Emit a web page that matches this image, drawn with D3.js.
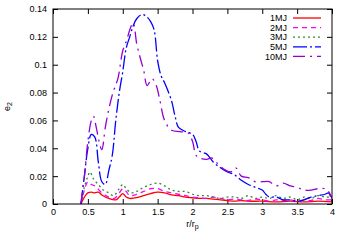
<!DOCTYPE html>
<html>
<head>
<meta charset="utf-8">
<script src="https://cdn.jsdelivr.net/npm/d3@7"></script>
<style>
body { margin: 0; background: #fff; }
text { font-family: "Liberation Sans", Arial, sans-serif; }
</style>
</head>
<body>
<div id="chart"></div>
<script>
// data: [r/rp, e2]
var red1 = [[0.4,0],[0.45,0.005],[0.5,0.008],[0.55,0.0085],[0.6,0.008],[0.65,0.0085],[0.7,0.0065],[0.8,0.004],[0.9,0.003],[0.95,0.005],[1.0,0.0075],[1.05,0.005],[1.1,0.004],[1.2,0.0045],[1.3,0.006],[1.4,0.0075],[1.5,0.0085],[1.6,0.008],[1.7,0.0065],[1.8,0.006],[1.9,0.005],[2.0,0.0045],[2.1,0.004],[2.2,0.004],[2.3,0.0035],[2.4,0.003],[2.5,0.0025],[2.6,0.002],[2.7,0.0025],[2.8,0.002],[3.0,0.002],[3.2,0.0015],[3.4,0.002],[3.6,0.0015],[3.8,0.002],[4.0,0.0015]];
var mag2 = [[0.4,0],[0.45,0.01],[0.5,0.016],[0.55,0.014],[0.6,0.013],[0.7,0.008],[0.8,0.005],[0.88,0.004],[0.95,0.008],[1.0,0.011],[1.05,0.009],[1.1,0.006],[1.2,0.007],[1.3,0.009],[1.4,0.011],[1.5,0.011],[1.6,0.009],[1.7,0.008],[1.8,0.007],[1.9,0.006],[2.0,0.005],[2.1,0.0045],[2.2,0.004],[2.3,0.005],[2.4,0.004],[2.5,0.003],[2.6,0.0035],[2.7,0.003],[2.8,0.0025],[2.9,0.0035],[3.0,0.003],[3.1,0.002],[3.2,0.003],[3.3,0.0025],[3.4,0.003],[3.5,0.002],[3.6,0.003],[3.7,0.0025],[3.8,0.004],[3.9,0.003],[4.0,0.003]];
var green3 = [[0.4,0],[0.45,0.012],[0.5,0.02],[0.53,0.023],[0.58,0.018],[0.65,0.014],[0.72,0.01],[0.8,0.008],[0.87,0.006],[0.95,0.011],[1.0,0.014],[1.05,0.011],[1.12,0.008],[1.2,0.009],[1.3,0.012],[1.4,0.014],[1.5,0.015],[1.6,0.013],[1.7,0.01],[1.8,0.009],[1.9,0.009],[2.0,0.007],[2.1,0.006],[2.2,0.006],[2.3,0.005],[2.4,0.004],[2.5,0.005],[2.6,0.005],[2.7,0.004],[2.8,0.006],[2.9,0.004],[3.0,0.005],[3.1,0.004],[3.2,0.006],[3.3,0.004],[3.4,0.005],[3.5,0.003],[3.6,0.005],[3.7,0.004],[3.8,0.006],[3.9,0.005],[4.0,0.005]];
var blue5 = [[0.4,0],[0.45,0.02],[0.5,0.04],[0.55,0.05],[0.6,0.048],[0.65,0.03],[0.7,0.016],[0.75,0.014],[0.8,0.024],[0.85,0.035],[0.9,0.06],[0.95,0.08],[1.0,0.095],[1.05,0.112],[1.1,0.12],[1.15,0.128],[1.2,0.133],[1.27,0.136],[1.33,0.135],[1.4,0.131],[1.45,0.125],[1.5,0.103],[1.55,0.092],[1.6,0.087],[1.7,0.074],[1.75,0.063],[1.8,0.055],[1.9,0.052],[2.0,0.05],[2.05,0.045],[2.1,0.038],[2.2,0.036],[2.3,0.03],[2.4,0.026],[2.5,0.023],[2.6,0.021],[2.7,0.017],[2.8,0.014],[2.9,0.012],[3.0,0.01],[3.05,0.007],[3.1,0.005],[3.2,0.005],[3.3,0.003],[3.4,0.003],[3.5,0.002],[3.6,0.003],[3.7,0.005],[3.8,0.006],[3.9,0.007],[3.95,0.008],[4.0,0.002]];
var purple10 = [[0.4,0],[0.45,0.02],[0.5,0.045],[0.55,0.06],[0.58,0.063],[0.62,0.055],[0.66,0.045],[0.7,0.039],[0.75,0.055],[0.8,0.068],[0.86,0.08],[0.93,0.09],[1.0,0.11],[1.06,0.118],[1.1,0.125],[1.15,0.13],[1.2,0.115],[1.25,0.105],[1.3,0.096],[1.35,0.085],[1.42,0.09],[1.48,0.085],[1.53,0.075],[1.6,0.06],[1.7,0.053],[1.82,0.052],[1.94,0.051],[2.0,0.045],[2.05,0.035],[2.1,0.033],[2.2,0.032],[2.28,0.033],[2.36,0.029],[2.45,0.025],[2.55,0.023],[2.62,0.026],[2.7,0.02],[2.8,0.019],[2.9,0.016],[3.0,0.016],[3.1,0.016],[3.2,0.013],[3.3,0.015],[3.4,0.013],[3.5,0.012],[3.6,0.01],[3.7,0.01],[3.8,0.011],[3.9,0.011],[3.95,0.009],[4.0,0.004]];

var seriesNames = ["1MJ", "2MJ", "3MJ", "5MJ", "10MJ"];
var xTicks = [0, 0.5, 1, 1.5, 2, 2.5, 3, 3.5, 4];
var xTickLabels = ["0", "0.5", "1", "1.5", "2", "2.5", "3", "3.5", "4"];
var yTicks = [0, 0.02, 0.04, 0.06, 0.08, 0.1, 0.12, 0.14];
var yTickLabels = ["0", "0.02", "0.04", "0.06", "0.08", "0.1", "0.12", "0.14"];

var series = [
    { name: seriesNames[0], values: red1, color: "#ff0000", dash: null },
    { name: seriesNames[1], values: mag2, color: "#ff00ff", dash: "5,4" },
    { name: seriesNames[2], values: green3, color: "#2e8b3a", dash: "2,3" },
    { name: seriesNames[3], values: blue5, color: "#0000ff", dash: "14,3,2,3" },
    { name: seriesNames[4], values: purple10, color: "#9400d3", dash: "12,5,2,5" }
];

var margin = { top: 9, right: 18, bottom: 41, left: 53 },
    width = 350 - margin.left - margin.right,
    height = 245 - margin.top - margin.bottom;

var svg = d3.select("#chart")
    .append("svg")
    .attr("width", 350)
    .attr("height", 245)
    .append("g")
    .attr("transform", "translate(" + margin.left + "," + margin.top + ")");

var x = d3.scaleLinear().domain([0, 4]).range([0, width]);
var y = d3.scaleLinear().domain([0, 0.14]).range([height, 0]);

svg.append("clipPath").attr("id", "clip")
    .append("rect").attr("width", width).attr("height", height);

// axes, gnuplot style: inward ticks mirrored on all sides
function styleAxis(g) {
    g.select(".domain").remove();
    g.selectAll("line").attr("stroke", "#000");
    g.selectAll("text").style("font-size", "9px").attr("fill", "#000");
}

svg.append("g")
    .attr("transform", "translate(0," + height + ")")
    .call(d3.axisBottom(x).tickValues(xTicks).tickFormat(function (d, i) { return xTickLabels[i]; })
        .tickSizeInner(-5).tickSizeOuter(0).tickPadding(5))
    .call(styleAxis);

svg.append("g")
    .call(d3.axisTop(x).tickValues(xTicks).tickFormat("")
        .tickSizeInner(-5).tickSizeOuter(0))
    .call(styleAxis);

svg.append("g")
    .call(d3.axisLeft(y).tickValues(yTicks).tickFormat(function (d, i) { return yTickLabels[i]; })
        .tickSizeInner(-5).tickSizeOuter(0).tickPadding(6))
    .call(styleAxis);

svg.append("g")
    .attr("transform", "translate(" + width + ",0)")
    .call(d3.axisRight(y).tickValues(yTicks).tickFormat("")
        .tickSizeInner(-5).tickSizeOuter(0))
    .call(styleAxis);

var line = d3.line()
    .x(function (d) { return x(d[0]); })
    .y(function (d) { return y(d[1]); })
    .curve(d3.curveCatmullRom);

series.forEach(function (s) {
    svg.append("path")
        .datum(s.values)
        .attr("clip-path", "url(#clip)")
        .attr("fill", "none")
        .attr("stroke", s.color)
        .attr("stroke-width", 1.3)
        .attr("stroke-dasharray", s.dash)
        .attr("d", line);
});

svg.append("rect")
    .attr("width", width)
    .attr("height", height)
    .attr("fill", "none")
    .attr("stroke", "#000")
    .attr("stroke-width", 1);

// legend
var legend = svg.selectAll(".legend")
    .data(series)
    .enter()
    .append("g")
    .attr("class", "legend")
    .attr("transform", function (d, i) { return "translate(0," + (9 + i * 9.6) + ")"; });

legend.append("text")
    .attr("x", 234)
    .attr("dy", "0.35em")
    .attr("text-anchor", "end")
    .style("font-size", "9px")
    .text(function (d) { return d.name; });

legend.append("line")
    .attr("x1", 240)
    .attr("x2", 268)
    .attr("stroke", function (d) { return d.color; })
    .attr("stroke-width", 1.3)
    .attr("stroke-dasharray", function (d) { return d.dash; });

// axis labels
var yl = svg.append("text")
    .attr("transform", "translate(" + (-43) + "," + (height / 2) + ") rotate(-90)")
    .attr("text-anchor", "middle")
    .style("font-size", "9px");
yl.append("tspan").text("e");
yl.append("tspan").attr("dy", "2").style("font-size", "7px").text("2");

var xl = svg.append("text")
    .attr("x", width / 2)
    .attr("y", height + 23)
    .attr("text-anchor", "middle")
    .style("font-size", "9px");
xl.append("tspan").text("r/r");
xl.append("tspan").attr("dy", "2").style("font-size", "7px").text("p");
</script>
</body>
</html>
